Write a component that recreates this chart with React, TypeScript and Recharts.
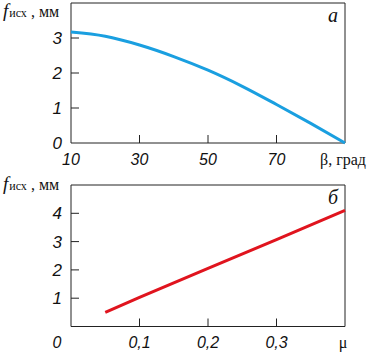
import React from 'react';
import { LineChart, Line, XAxis, YAxis, ReferenceArea } from 'recharts';

// панель а: прогиб от угла β
const betaValues = [10, 20, 30, 40, 50, 60, 70, 80, 90];
const fByBeta = [3.17, 3.05, 2.8, 2.47, 2.08, 1.62, 1.1, 0.56, 0];
const betaTicks = [10, 30, 50, 70, 90];
const betaTickLabels = ['10', '30', '50', '70', 'β, град'];
const fTicksA = [0, 1, 2, 3, 4];
const fTickLabelsA = ['0', '1', '2', '3', ''];

// панель б: прогиб от коэффициента трения μ
const muValues = [0.05, 0.1, 0.2, 0.3, 0.4];
const fByMu = [0.5, 1.03, 2.05, 3.07, 4.1];
const muTicks = [0, 0.1, 0.2, 0.3, 0.4];
const muTickLabels = ['0', '0,1', '0,2', '0,3', 'μ'];
const fTicksB = [0, 1, 2, 3, 4, 5];
const fTickLabelsB = ['', '1', '2', '3', '4', ''];

const dataA = betaValues.map((b, i) => ({ x: b, f: fByBeta[i] }));
const dataB = muValues.map((m, i) => ({ x: m, f: fByMu[i] }));

const SANS = "'Liberation Sans', Arial, sans-serif";
const SERIF = "'Liberation Serif', 'Times New Roman', serif";
const FRAME = '#222';

const numStyle: React.CSSProperties = { fontFamily: SANS, fontStyle: 'italic', fontSize: 16 };
const serifStyle: React.CSSProperties = { fontFamily: SERIF, fontSize: 16 };

const makeXTick = (ticks: number[], labels: string[], dy: number) => (props: any) => {
  const { x, y, payload } = props;
  const i = ticks.indexOf(payload.value);
  const last = i === ticks.length - 1;
  const first = i === 0;
  return (
    <g>
      {!first && !last && <line x1={x} y1={y} x2={x} y2={y - 8} stroke={FRAME} strokeWidth={1} />}
      {last ? (
        <text x={x - 2} y={y + dy} textAnchor="middle" style={serifStyle} fill="#111">
          {labels[i]}
        </text>
      ) : (
        <text
          x={first && ticks[0] === 0 ? x - 14 : x}
          y={y + dy}
          textAnchor="middle"
          style={numStyle}
          fill="#111"
        >
          {labels[i]}
        </text>
      )}
    </g>
  );
};

const makeYTick = (ticks: number[], labels: string[]) => (props: any) => {
  const { x, y, payload } = props;
  const i = ticks.indexOf(payload.value);
  const inner = i > 0 && i < ticks.length - 1;
  return (
    <g>
      {inner && <line x1={x} y1={y} x2={x + 8} y2={y} stroke={FRAME} strokeWidth={1} />}
      <text x={x - 9} y={y + 6} textAnchor="end" style={{ ...numStyle, fontSize: 17 }} fill="#111">
        {labels[i]}
      </text>
    </g>
  );
};

const yTitle = (baseline: number) => (props: any) => {
  const vb = props.viewBox || { y: 0 };
  return (
    <text x={3} y={vb.y + baseline} style={{ fontFamily: SERIF }} fill="#111">
      <tspan style={{ fontStyle: 'italic', fontSize: 19 }}>f</tspan>
      <tspan style={{ fontSize: 12 }} dx={1}>исх</tspan>
      <tspan style={{ fontSize: 16 }}> , мм</tspan>
    </text>
  );
};

const panelLetter = (letter: string, baseline: number) => (props: any) => {
  const vb = props.viewBox;
  if (!vb) return null;
  return (
    <text
      x={vb.x + vb.width - 7}
      y={vb.y + baseline}
      textAnchor="end"
      style={{ fontFamily: SERIF, fontStyle: 'italic', fontSize: 20 }}
      fill="#111"
    >
      {letter}
    </text>
  );
};

export default function App() {
  return (
    <div style={{ position: 'absolute', left: 0, top: 0, width: 371, height: 354, background: '#fff' }}>
      <div style={{ position: 'absolute', left: 0, top: 0 }}>
        <LineChart width={371} height={170} data={dataA} margin={{ top: 3, right: 26, bottom: 0, left: 0 }}>
          <XAxis
            dataKey="x"
            type="number"
            domain={[10, 90]}
            ticks={betaTicks}
            interval={0}
            axisLine={false}
            tickLine={false}
            tickSize={0}
            tickMargin={0}
            height={27}
            tick={makeXTick(betaTicks, betaTickLabels, 21.5)}
          />
          <YAxis
            type="number"
            domain={[0, 4]}
            ticks={fTicksA}
            interval={0}
            axisLine={false}
            tickLine={false}
            tickSize={0}
            tickMargin={0}
            width={71}
            tick={makeYTick(fTicksA, fTickLabelsA)}
            label={{ content: yTitle(14) }}
          />
          <ReferenceArea
            x1={10}
            x2={90}
            y1={0}
            y2={4}
            stroke={FRAME}
            strokeWidth={1}
            fill="none"
            fillOpacity={0}
            label={{ content: panelLetter('а', 19) }}
          />
          <Line
            type="monotone"
            dataKey="f"
            stroke="#1a9fe0"
            strokeWidth={3}
            dot={false}
            isAnimationActive={false}
          />
        </LineChart>
      </div>
      <div style={{ position: 'absolute', left: 0, top: 170 }}>
        <LineChart width={371} height={184} data={dataB} margin={{ top: 15, right: 26, bottom: 0, left: 0 }}>
          <XAxis
            dataKey="x"
            type="number"
            domain={[0, 0.4]}
            ticks={muTicks}
            interval={0}
            axisLine={false}
            tickLine={false}
            tickSize={0}
            tickMargin={0}
            height={27.5}
            tick={makeXTick(muTicks, muTickLabels, 21)}
          />
          <YAxis
            type="number"
            domain={[0, 5]}
            ticks={fTicksB}
            interval={0}
            axisLine={false}
            tickLine={false}
            tickSize={0}
            tickMargin={0}
            width={71}
            tick={makeYTick(fTicksB, fTickLabelsB)}
            label={{ content: yTitle(5) }}
          />
          <ReferenceArea
            x1={0}
            x2={0.4}
            y1={0}
            y2={5}
            stroke={FRAME}
            strokeWidth={1}
            fill="none"
            fillOpacity={0}
            label={{ content: panelLetter('б', 19) }}
          />
          <Line
            type="linear"
            dataKey="f"
            stroke="#e0141e"
            strokeWidth={3}
            dot={false}
            isAnimationActive={false}
          />
        </LineChart>
      </div>
    </div>
  );
}
